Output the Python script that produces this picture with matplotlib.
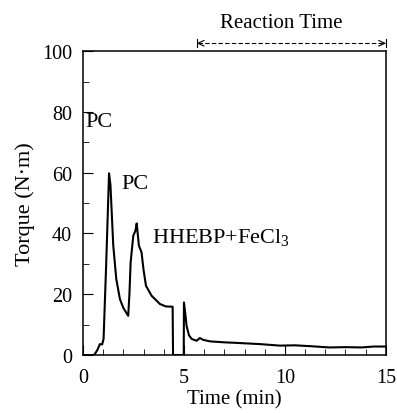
import matplotlib
matplotlib.use("Agg")
import matplotlib.pyplot as plt

plt.rcParams['font.family'] = ['Liberation Serif', 'DejaVu Serif']
plt.rcParams['mathtext.fontset'] = 'custom'
plt.rcParams['mathtext.rm'] = 'Liberation Serif'

# Torque curve (time in min, torque in N·m)
time = [0.0, 0.55, 0.7, 0.84, 0.95, 1.02, 1.15, 1.29, 1.36, 1.5, 1.65, 1.83, 2.0, 2.24,
        2.3, 2.36, 2.49, 2.6, 2.66, 2.77, 2.9, 3.0, 3.12, 3.4, 3.81, 4.1, 4.44, 4.46,
        4.99, 5.0, 5.06, 5.13, 5.25, 5.38, 5.63, 5.79, 5.95, 6.29, 6.95, 7.6, 8.76,
        9.75, 10.5, 11.3, 12.2, 13.0, 13.8, 14.4, 15.0]
torque = [0.0, 0.0, 1.5, 3.6, 3.5, 5.3, 30.0, 59.8, 56.0, 36.0, 25.0, 18.4, 15.5, 12.9,
          20.0, 30.5, 39.2, 41.0, 43.3, 36.0, 33.8, 28.0, 22.8, 19.5, 16.8, 16.0, 15.9, 0.0,
          0.0, 17.3, 14.0, 9.6, 6.5, 5.3, 4.7, 5.6, 5.0, 4.5, 4.2, 4.0, 3.6,
          3.1, 3.2, 2.9, 2.5, 2.6, 2.5, 2.8, 2.8]

x_ticks = [0, 5, 10, 15]
y_ticks = [0, 20, 40, 60, 80, 100]

fig = plt.figure(figsize=(3.97, 4.14), dpi=100)
ax = fig.add_axes([0.209, 0.140, 0.763, 0.734])
ax.plot(time, torque, color='black', lw=1.5)

ax.set_xlim(0, 15)
ax.set_ylim(0, 100)
ax.set_xticks(x_ticks)
ax.set_yticks(y_ticks)
ax.set_xticks(range(0, 16), minor=True)
ax.set_yticks(range(0, 101, 10), minor=True)
ax.tick_params(which='both', direction='in', labelsize=14.5, top=False, right=False)
ax.tick_params(which='major', length=7, width=0.8)
ax.tick_params(axis='x', which='major', pad=9)
ax.tick_params(axis='y', which='major', pad=8)
ax.tick_params(which='minor', length=4, width=0.6)
for s in ax.spines.values():
    s.set_linewidth(1.1)

ax.set_xlabel('Time (min)', fontsize=15, labelpad=2)
ax.set_ylabel('Torque (N·m)', fontsize=16, labelpad=5)

ax.text(0.12, 77, 'PC', fontsize=16, va='center', ha='left')
ax.text(1.88, 56.3, 'PC', fontsize=16, va='center', ha='left')
ax.text(3.42, 38.8, r'HHEBP+FeCl$_3$', fontsize=16, va='center', ha='left')

# Reaction time arrow above the axes
ya = 102.6
x0, x1 = 5.64, 15.0
ax.plot([x0 + 0.05, x1 - 0.05], [ya, ya], color='black', lw=0.8, ls=(0, (4, 2)), clip_on=False)
ax.plot([x0, x0], [ya - 1.3, ya + 1.3], color='black', lw=0.8, clip_on=False)
ax.plot([x1, x1], [ya - 1.3, ya + 1.3], color='black', lw=0.8, clip_on=False)
ax.plot([x0 + 0.35, x0 + 0.05, x0 + 0.35], [ya + 0.9, ya, ya - 0.9], color='black', lw=0.8, clip_on=False)
ax.plot([x1 - 0.35, x1 - 0.05, x1 - 0.35], [ya + 0.9, ya, ya - 0.9], color='black', lw=0.8, clip_on=False)
ax.text(9.8, 109.5, 'Reaction Time', fontsize=15, ha='center', va='center')

fig.savefig('out.png', dpi=100)
